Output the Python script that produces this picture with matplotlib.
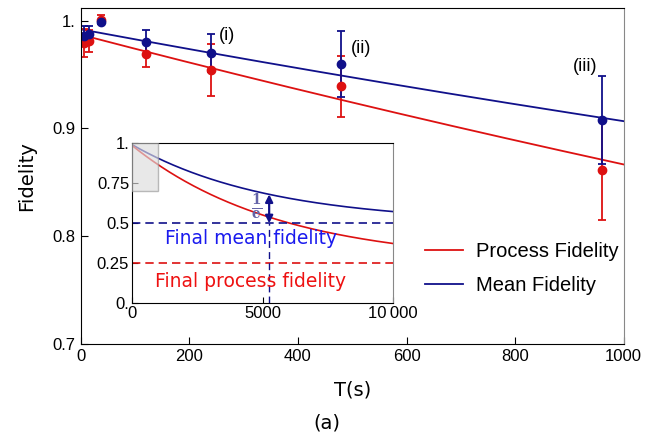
import numpy as np
import matplotlib.pyplot as plt
from matplotlib.patches import Rectangle

plt.rcParams['font.family'] = ['Liberation Sans', 'DejaVu Sans']
plt.rcParams['mathtext.fontset'] = 'dejavuserif'

# measured fidelities vs storage time
t_meas = [6, 15, 38, 120, 240, 480, 960]
mean_fid = [0.986, 0.988, 0.999, 0.980, 0.970, 0.960, 0.908]
mean_err = [0.009, 0.007, 0.002, 0.011, 0.0175, 0.0305, 0.041]
proc_fid = [0.979, 0.981, 1.001, 0.969, 0.954, 0.939, 0.861]
proc_err = [0.013, 0.010, 0.004, 0.012, 0.024, 0.028, 0.046]

# exponential decay fits: F = floor + amp * exp(-t / tau)
mean_floor, mean_amp, mean_tau = 0.5, 0.492, 5250
proc_floor, proc_amp, proc_tau = 0.25, 0.737, 5600

labels = ['(i)', '(ii)', '(iii)']
label_pos = [(269, 0.9867), (517, 0.9744), (929, 0.9573)]

red = '#dd1111'
blue = '#10108a'


def decay(t, floor, amp, tau):
    return floor + amp * np.exp(-t / tau)


fig = plt.figure(figsize=(6.56, 4.37), dpi=100)
ax = fig.add_axes([0.123, 0.2135, 0.8278, 0.7675])

t = np.linspace(0, 1000, 200)
ax.plot(t, decay(t, proc_floor, proc_amp, proc_tau), color=red, lw=1.3,
        label='Process Fidelity')
ax.plot(t, decay(t, mean_floor, mean_amp, mean_tau), color=blue, lw=1.3,
        label='Mean Fidelity')
ax.errorbar(t_meas, proc_fid, yerr=proc_err, fmt='o', color=red, ms=6,
            capsize=3, elinewidth=1.3, capthick=1.3)
ax.errorbar(t_meas, mean_fid, yerr=mean_err, fmt='o', color=blue, ms=6,
            capsize=3, elinewidth=1.3, capthick=1.3)

for lab, (x, y) in zip(labels, label_pos):
    ax.text(x, y, lab, fontsize=13, ha='center', va='center')

ax.set_xlim(0, 1000)
ax.set_ylim(0.7, 1.0115)
ax.set_xticks([0, 200, 400, 600, 800, 1000])
ax.set_yticks([0.7, 0.8, 0.9, 1.0])
ax.set_yticklabels(['0.7', '0.8', '0.9', '1.'])
ax.tick_params(direction='in', labelsize=12, length=5)
ax.spines['right'].set_color('#888888')
ax.set_xlabel('T(s)', fontsize=14, family='DejaVu Sans', labelpad=12)
ax.set_ylabel('Fidelity', fontsize=14, family='DejaVu Sans', labelpad=12)
ax.legend(loc='center left', bbox_to_anchor=(0.6, 0.225), frameon=False,
          fontsize=14.5, handlelength=1.9, handletextpad=0.65, labelspacing=0.75)
fig.text(0.498, 0.02, '(a)', fontsize=14, family='DejaVu Sans', ha='center')

# long-time inset
ins = fig.add_axes([0.2012, 0.306, 0.3983, 0.366])
tt = np.linspace(0, 10000, 400)
ins.plot(tt, decay(tt, mean_floor, mean_amp, mean_tau), color=blue, lw=1.2)
ins.plot(tt, decay(tt, proc_floor, proc_amp, proc_tau), color=red, lw=1.2)
ins.axhline(mean_floor, color=blue, ls='--', lw=1.2, dashes=(5, 3))
ins.axhline(proc_floor, color=red, ls='--', lw=1.2, dashes=(5, 3))
ins.plot([mean_tau, mean_tau], [0, mean_floor], color=blue, lw=1.0,
         ls='--', dashes=(5, 3))
tau_val = decay(mean_tau, mean_floor, mean_amp, mean_tau)
ins.annotate('', xy=(mean_tau, tau_val), xytext=(mean_tau, mean_floor),
             arrowprops=dict(arrowstyle='<|-|>', color=blue, lw=1.6,
                             mutation_scale=11, shrinkA=0, shrinkB=0))
ins.text(mean_tau - 260, (tau_val + mean_floor) / 2 + 0.01,
         r'$\mathbf{\frac{1}{e}}$', color='#6464a8', fontsize=14,
         ha='right', va='center')
ins.add_patch(Rectangle((0, 0.7), 1000, 0.3, facecolor='#dddddd',
                        edgecolor='#999999', alpha=0.65, lw=1.0, zorder=5))
ins.text(4550, 0.405, 'Final mean fidelity', color='#1a1aee', fontsize=13.5,
         family='DejaVu Sans', ha='center', va='center')
ins.text(4550, 0.135, 'Final process fidelity', color='#ee1111', fontsize=13.5,
         family='DejaVu Sans', ha='center', va='center')
ins.set_xlim(0, 10000)
ins.set_ylim(0, 1)
ins.set_xticks([0, 5000, 10000])
ins.set_xticklabels(['0', '5000', '10\u2009000'])
ins.set_yticks([0, 0.25, 0.5, 0.75, 1.0])
ins.set_yticklabels(['0.', '0.25', '0.5', '0.75', '1.'])
ins.tick_params(direction='in', labelsize=12, length=4, pad=2)
ins.spines['right'].set_color('#888888')

fig.savefig('out.png', dpi=100)
